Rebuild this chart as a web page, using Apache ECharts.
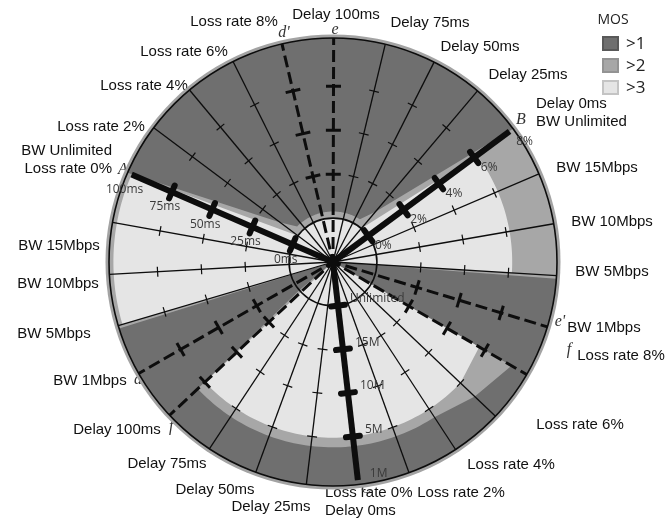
<!DOCTYPE html>
<html>
<head>
<meta charset="utf-8">
<script src="https://cdn.jsdelivr.net/npm/echarts@6/dist/echarts.min.js"></script>
<style>
  html, body { margin: 0; padding: 0; background: #fff; }
  #chart { width: 667px; height: 532px; }
</style>
</head>
<body>
<div id="chart"></div>
<script>
// ---- data -------------------------------------------------------------
// 27 spokes, counted clockwise starting at axis A.
const spokeLabels = [
  ['BW Unlimited', 'Loss rate 0%'],
  ['Loss rate 2%'], ['Loss rate 4%'], ['Loss rate 6%'], ['Loss rate 8%'],
  ['Delay 100ms'], ['Delay 75ms'], ['Delay 50ms'], ['Delay 25ms'],
  ['Delay 0ms', 'BW Unlimited'],
  ['BW 15Mbps'], ['BW 10Mbps'], ['BW 5Mbps'], ['BW 1Mbps'],
  ['Loss rate 8%'], ['Loss rate 6%'], ['Loss rate 4%'], ['Loss rate 2%'],
  ['Loss rate 0%', 'Delay 0ms'],
  ['Delay 25ms'], ['Delay 50ms'], ['Delay 75ms'], ['Delay 100ms'],
  ['BW 1Mbps'], ['BW 5Mbps'], ['BW 10Mbps'], ['BW 15Mbps']
];
const spokeCount = spokeLabels.length;

// the three main axes and the dashed worst-case spokes
const axisSpokes = [0, 9, 18];
const axisNames = ['A', 'B', 'C'];
const dashedSpokes = [4, 5, 13, 14, 22, 23];
const dashedNames = ["d'", 'e', "e'", 'f', "f'", 'd'];

// radial scale: 1 = inner ring, 5 = end of the main axes
const radiusMax = 5.1;
const axisEnd = 5;
const innerRing = 1;
const spokeTicks = [2, 3, 4];
const axisTicks = [1, 2, 3, 4];
const axisTickLabels = [
  ['0ms', '25ms', '50ms', '75ms', '100ms'],
  ['0%', '2%', '4%', '6%', '8%'],
  ['Unlimited', '15M', '10M', '5M', '1M']
];

// MOS contours as [spoke position, radius] outlines
const mosAbove2 = [
  [0, 5.1], [1, 1.5], [1.6, 1.15], [7.4, 1.15], [8, 1.5], [9, 5.1],
  [12.06, 5.1], [12.06, 0], [14, 0], [14, 4.7], [15, 4.45], [16, 4.22],
  [22, 4.22], [22.25, 1.0], [22.25, 0], [23.94, 0], [23.94, 5.1], [27, 5.1]
];
const mosAbove3 = [
  [0, 5.0], [1, 1.0], [8, 1.0], [9, 4.08], [12, 4.08], [12, 0],
  [14, 0], [14, 3.85], [15, 4.0], [22, 4.0], [22, 0], [24, 0],
  [24, 5.0], [27, 5.0]
];

const legendItems = ['>1', '>2', '>3'];

// ---- layout & style ---------------------------------------------------
const CENTER = [333, 262];
const RADIUS_PX = 224;
const START_ANGLE = 156.5;
const COLORS = { halo: '#a3a3a3', mos1: '#6f6f6f', mos2: '#a7a7a7', mos3: '#e5e5e5', ink: '#0d0d0d' };
const LABEL_FONT = "15px 'Liberation Sans', Arial, sans-serif";
const LETTER_FONT = "italic 16px 'Liberation Serif', 'DejaVu Serif', serif";
const TICK_FONT = "12px 'Open Sans', 'Noto Sans', sans-serif";

// label anchors around the rim: [x, y, align]
const spokeLabelPos = [
  [112, 160, 'right'], [101, 127, 'center'], [144, 86, 'center'], [184, 52, 'center'],
  [234, 22, 'center'], [336, 15, 'center'], [430, 23, 'center'], [480, 47, 'center'],
  [528, 75, 'center'], [536, 113, 'left'], [597, 168, 'center'], [612, 222, 'center'],
  [612, 272, 'center'], [604, 328, 'center'], [621, 356, 'center'], [580, 425, 'center'],
  [511, 465, 'center'], [461, 493, 'center'], [325, 502, 'left'], [271, 507, 'center'],
  [215, 490, 'center'], [167, 464, 'center'], [117, 430, 'center'], [90, 381, 'center'],
  [54, 334, 'center'], [58, 284, 'center'], [59, 246, 'center']
];
const axisLetterPos = [[123, 170], [521, 120], [366, 489]];
const dashedLetterPos = [[284, 33], [335, 30], [560, 322], [569, 350], [173, 427], [138, 380]];
// tick label offsets from each main-axis tick: [dx, dy, align]
const axisLabelOffset = [[-7, 15, 'center'], [15, 10, 'center'], [12, -7, 'left']];

// ---- helpers ----------------------------------------------------------
function tracePolar(api, pts) {
  // arcs where the radius stays constant, straight edges elsewhere
  const out = [];
  for (let k = 0; k < pts.length - 1; k++) {
    const [t1, r1] = pts[k];
    const [t2, r2] = pts[k + 1];
    if (r1 === r2 && r1 > 0 && t1 !== t2) {
      const n = Math.max(2, Math.ceil(Math.abs(t2 - t1) * 10));
      for (let s = 0; s < n; s++) out.push(api.coord([r1, t1 + (t2 - t1) * s / n]));
    } else {
      out.push(api.coord([r1, t1]));
    }
  }
  const last = pts[pts.length - 1];
  out.push(api.coord([last[1], last[0]]));
  return out;
}

function crossBar(api, spoke, r, len, width, cap) {
  const c = api.coord([0, spoke]);
  const p = api.coord([r, spoke]);
  const dx = p[0] - c[0], dy = p[1] - c[1];
  const d = Math.hypot(dx, dy) || 1;
  const nx = -dy / d * len / 2, ny = dx / d * len / 2;
  return {
    type: 'line',
    shape: { x1: p[0] - nx, y1: p[1] - ny, x2: p[0] + nx, y2: p[1] + ny },
    style: { stroke: COLORS.ink, lineWidth: width, lineCap: cap || 'butt' }
  };
}

function regionSeries(pts, fill, z) {
  return {
    type: 'custom', coordinateSystem: 'polar', silent: true, clip: false, z,
    data: [[0, 0]],
    renderItem: (params, api) => ({
      type: 'polygon',
      shape: { points: tracePolar(api, pts) },
      style: { fill, stroke: null }
    })
  };
}

function discSeries(r, style, z, extra) {
  return {
    type: 'custom', coordinateSystem: 'polar', silent: true, clip: false, z,
    data: [[0, 0]],
    renderItem: (params, api) => {
      const c = api.coord([0, 0]);
      const p = api.coord([r, 0]);
      return {
        type: 'circle',
        shape: { cx: c[0], cy: c[1], r: Math.hypot(p[0] - c[0], p[1] - c[1]) + (extra || 0) },
        style
      };
    }
  };
}

// ---- series -----------------------------------------------------------
const thinSpokes = [];
for (let i = 0; i < spokeCount; i++) {
  if (axisSpokes.indexOf(i) < 0 && dashedSpokes.indexOf(i) < 0) thinSpokes.push([radiusMax, i]);
}

const series = [
  discSeries(radiusMax, { fill: COLORS.halo }, 1, 3.5),
  discSeries(radiusMax, { fill: COLORS.mos1 }, 2),
  regionSeries(mosAbove2, COLORS.mos2, 3),
  regionSeries(mosAbove3, COLORS.mos3, 4),
  discSeries(radiusMax, { fill: null, stroke: COLORS.ink, lineWidth: 1.6 }, 5),
  discSeries(innerRing, { fill: null, stroke: COLORS.ink, lineWidth: 1.6 }, 6),
  {
    type: 'custom', coordinateSystem: 'polar', silent: true, clip: false, z: 7,
    data: thinSpokes,
    renderItem: (params, api) => {
      const s = api.value(1);
      const c = api.coord([0, s]);
      const e = api.coord([api.value(0), s]);
      const children = [{
        type: 'line', shape: { x1: c[0], y1: c[1], x2: e[0], y2: e[1] },
        style: { stroke: COLORS.ink, lineWidth: 1.3 }
      }];
      spokeTicks.forEach(r => children.push(crossBar(api, s, r, 10, 1.2)));
      return { type: 'group', children };
    }
  },
  {
    type: 'custom', coordinateSystem: 'polar', silent: true, clip: false, z: 8,
    data: dashedSpokes.map(i => [radiusMax, i]),
    renderItem: (params, api) => {
      const s = api.value(1);
      const c = api.coord([0, s]);
      const e = api.coord([api.value(0), s]);
      const children = [{
        type: 'line', shape: { x1: c[0], y1: c[1], x2: e[0], y2: e[1] },
        style: { stroke: COLORS.ink, lineWidth: 3, lineDash: [12, 5], lineDashOffset: 4 }
      }];
      spokeTicks.forEach(r => children.push(crossBar(api, s, r, 15, 3)));
      return { type: 'group', children };
    }
  },
  {
    type: 'custom', coordinateSystem: 'polar', silent: true, clip: false, z: 9,
    data: axisSpokes.map((i, k) => [axisEnd, i, k]),
    renderItem: (params, api) => {
      const s = api.value(1);
      const k = api.value(2);
      const c = api.coord([0, s]);
      const e = api.coord([api.value(0), s]);
      const children = [{
        type: 'line', shape: { x1: c[0], y1: c[1], x2: e[0], y2: e[1] },
        style: { stroke: COLORS.ink, lineWidth: 6 }
      }];
      axisTicks.forEach(r => children.push(crossBar(api, s, r, 14, 6, 'round')));
      const off = axisLabelOffset[k];
      axisTickLabels[k].forEach((txt, j) => {
        const p = api.coord([j + 1, s]);
        children.push({
          type: 'text',
          style: {
            text: txt, x: p[0] + off[0], y: p[1] + off[1],
            align: off[2], verticalAlign: 'middle',
            font: TICK_FONT, fill: '#3a3a3a'
          }
        });
      });
      return { type: 'group', children };
    }
  },
  discSeries(0.12, { fill: COLORS.ink }, 10)
];

// ---- rim text, letters, legend ---------------------------------------
const graphics = [];
spokeLabels.forEach((lines, i) => {
  const [x, y, align] = spokeLabelPos[i];
  graphics.push({
    type: 'text', x, y, silent: true,
    style: {
      text: lines.join('\n'), font: LABEL_FONT, fill: '#111',
      align, textAlign: align, verticalAlign: 'middle', textVerticalAlign: 'middle',
      lineHeight: 18
    }
  });
});
axisNames.forEach((n, k) => graphics.push({
  type: 'text', x: axisLetterPos[k][0], y: axisLetterPos[k][1], silent: true,
  style: { text: n, font: LETTER_FONT, fill: '#333', align: 'center', textAlign: 'center', verticalAlign: 'middle', textVerticalAlign: 'middle' }
}));
dashedNames.forEach((n, k) => graphics.push({
  type: 'text', x: dashedLetterPos[k][0], y: dashedLetterPos[k][1], silent: true,
  style: { text: n, font: LETTER_FONT, fill: '#333', align: 'center', textAlign: 'center', verticalAlign: 'middle', textVerticalAlign: 'middle' }
}));
graphics.push({
  type: 'text', x: 613, y: 20, silent: true,
  style: { text: 'MOS', font: "14px 'Open Sans', 'Noto Sans', sans-serif", fill: '#222', align: 'center', textAlign: 'center', verticalAlign: 'middle', textVerticalAlign: 'middle' }
});
const swatchFill = [COLORS.mos1, COLORS.mos2, COLORS.mos3];
const swatchEdge = ['#595959', '#939393', '#c4c4c4'];
legendItems.forEach((t, k) => {
  const y = 44 + k * 22;
  graphics.push({
    type: 'rect', silent: true,
    shape: { x: 603, y: y - 7, width: 15, height: 13 },
    style: { fill: swatchFill[k], stroke: swatchEdge[k], lineWidth: 2 }
  });
  graphics.push({
    type: 'text', x: 626, y, silent: true,
    style: { text: t, font: "17px 'Open Sans', 'Noto Sans', sans-serif", fill: '#222', align: 'left', textAlign: 'left', verticalAlign: 'middle', textVerticalAlign: 'middle' }
  });
});

// ---- chart ------------------------------------------------------------
const chart = echarts.init(document.getElementById('chart'), null, { renderer: 'canvas' });
chart.setOption({
  animation: false,
  backgroundColor: '#ffffff',
  polar: { center: CENTER, radius: RADIUS_PX },
  angleAxis: {
    type: 'value', min: 0, max: spokeCount, startAngle: START_ANGLE, clockwise: true,
    show: false, axisLine: { show: false }, axisTick: { show: false },
    axisLabel: { show: false }, splitLine: { show: false }
  },
  radiusAxis: {
    type: 'value', min: 0, max: radiusMax,
    show: false, axisLine: { show: false }, axisTick: { show: false },
    axisLabel: { show: false }, splitLine: { show: false }
  },
  series,
  graphic: { elements: graphics }
});
</script>
</body>
</html>
